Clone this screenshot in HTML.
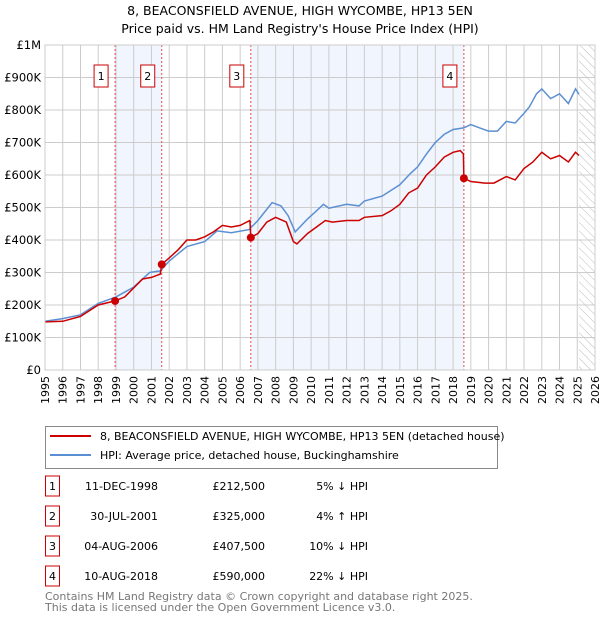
<!DOCTYPE html>
<html><head><meta charset="utf-8"><style>
body{margin:0;background:#fff;font-family:"DejaVu Sans","Liberation Sans",sans-serif;}
svg text{font-family:"DejaVu Sans","Liberation Sans",sans-serif;}
</style></head><body>
<svg width="600" height="620" xmlns="http://www.w3.org/2000/svg">
<defs><pattern id="hatch" width="6" height="6" patternUnits="userSpaceOnUse" patternTransform="rotate(-45)"><line x1="0" y1="0" x2="0" y2="6" stroke="#bbb" stroke-width="1"/></pattern></defs>
<text x="300" y="15" text-anchor="middle" font-size="12.5">8, BEACONSFIELD AVENUE, HIGH WYCOMBE, HP13 5EN</text>
<text x="300" y="33" text-anchor="middle" font-size="12.5">Price paid vs. HM Land Registry's House Price Index (HPI)</text>
<g id="plot"></g>
<g>
<rect x="45.5" y="426.5" width="452" height="42" fill="#fff" stroke="#888"/>
<line x1="50" y1="436" x2="91" y2="436" stroke="#cc0000" stroke-width="2"/>
<text x="100" y="440" font-size="11">8, BEACONSFIELD AVENUE, HIGH WYCOMBE, HP13 5EN (detached house)</text>
<line x1="50" y1="455" x2="91" y2="455" stroke="#5b8fd4" stroke-width="2"/>
<text x="100" y="459" font-size="11">HPI: Average price, detached house, Buckinghamshire</text>
</g>
<g id="table" font-size="11"></g>
<text x="45" y="600" font-size="11" fill="#777">Contains HM Land Registry data © Crown copyright and database right 2025.</text>
<text x="45" y="611" font-size="11" fill="#777">This data is licensed under the Open Government Licence v3.0.</text>
</svg>
<script>
const hpiYears=[1995,1996,1997,1998,1999,2000,2000.9,2001.5,2002,2003,2004,2004.7,2005.5,2006.5,2007,2007.8,2008.3,2008.7,2009.1,2009.8,2010.3,2010.7,2011,2012,2012.7,2013,2014,2015,2015.6,2016,2016.5,2017,2017.5,2018,2018.6,2019,2019.5,2020,2020.5,2021,2021.5,2022,2022.3,2022.7,2023,2023.5,2024,2024.5,2024.9,2025.1];
const hpiValues=[150,158,170,205,225,255,300,305,335,380,395,428,422,432,460,515,505,475,425,465,490,510,498,510,505,520,535,570,605,625,665,700,725,740,745,755,745,735,735,765,760,790,810,850,865,835,850,820,865,848];
const priceYears=[1995,1996,1997,1998,1998.95,1999.5,2000.5,2001,2001.5,2001.58,2002,2002.5,2003,2003.5,2004,2004.5,2005,2005.5,2006,2006.55,2006.6,2007,2007.5,2008,2008.6,2009,2009.2,2009.8,2010.3,2010.8,2011.2,2012,2012.7,2013,2014,2014.5,2015,2015.5,2016,2016.5,2017,2017.5,2018,2018.4,2018.58,2018.61,2019,2019.8,2020.3,2021,2021.5,2022,2022.5,2023,2023.5,2024,2024.5,2024.9,2025.1];
const priceValues=[148,150,165,200,212.5,225,280,285,295,325,345,370,400,400,410,425,445,440,445,460,407.5,420,455,470,455,395,388,420,440,460,455,460,460,470,475,490,510,545,560,600,625,655,670,675,665,590,580,575,575,595,585,620,640,670,650,660,640,670,660];
const saleYears=[1998.95,2001.58,2006.6,2018.61];
const saleValues=[212.5,325,407.5,590];
const saleLabels=["1","2","3","4"];
const saleDates=["11-DEC-1998","30-JUL-2001","04-AUG-2006","10-AUG-2018"];
const salePrices=["£212,500","£325,000","£407,500","£590,000"];
const saleDiffs=["5% ↓ HPI","4% ↑ HPI","10% ↓ HPI","22% ↓ HPI"];
const yTicks=[0,100,200,300,400,500,600,700,800,900,1000];
const yTickLabels=["£0","£100K","£200K","£300K","£400K","£500K","£600K","£700K","£800K","£900K","£1M"];
const NS="http://www.w3.org/2000/svg";
const X0=45,X1=595,Y0=370,Y1=45;
const xs=y=>X0+(y-1995)/(2026-1995)*(X1-X0);
const ys=v=>Y0-v/1000*(Y0-Y1);
const plot=document.getElementById('plot');
function mk(t,a,p){const e=document.createElementNS(NS,t);for(const k in a)e.setAttribute(k,a[k]);(p||plot).appendChild(e);return e;}
mk('rect',{x:X0,y:Y1,width:X1-X0,height:Y0-Y1,fill:'#fff'});
[[0,1],[2,3]].forEach((b,i)=>{const r=mk('rect',{x:xs(saleYears[b[0]]),y:Y1,width:xs(saleYears[b[1]])-xs(saleYears[b[0]]),height:Y0-Y1,fill:'#eef3fc',opacity:0.8});

});
const hz=mk('rect',{x:xs(2025.1),y:Y1,width:X1-xs(2025.1),height:Y0-Y1,fill:'url(#hatch)'});


for(let yr=1995;yr<=2026;yr++){const l=mk('line',{x1:xs(yr),x2:xs(yr),y1:Y1,y2:Y0,stroke:'#ccc','stroke-width':1});


const t=mk('text',{x:0,y:0,'font-size':11,'text-anchor':'end',transform:`translate(${xs(yr)+4},${Y0+6}) rotate(-90)`});t.textContent=yr;

}
yTicks.forEach((v,i)=>{const l=mk('line',{x1:X0,x2:X1,y1:ys(v),y2:ys(v),stroke:'#ccc','stroke-width':1});


const t=mk('text',{x:X0-4,y:ys(v)+4,'font-size':11.5,'text-anchor':'end'});t.textContent=yTickLabels[i];

});
saleYears.forEach((y,i)=>{const l=mk('line',{x1:xs(y),x2:xs(y),y1:Y1,y2:Y0,stroke:'#e05050','stroke-width':1,'stroke-dasharray':'2,2'});

});
const path=(xa,va)=>xa.map((y,i)=>(i?'L':'M')+xs(y).toFixed(1)+','+ys(va[i]).toFixed(1)).join('');
const h=mk('path',{d:path(hpiYears,hpiValues),fill:'none',stroke:'#5b8fd4','stroke-width':1.5});


const p=mk('path',{d:path(priceYears,priceValues),fill:'none',stroke:'#cc0000','stroke-width':1.5});


saleYears.forEach((y,i)=>{const c=mk('circle',{cx:xs(y),cy:ys(saleValues[i]),r:4,fill:'#cc0000'});


const g=mk('g',{});


mk('rect',{x:xs(y)-21,y:65,width:14,height:22,fill:'#fff',stroke:'#cc0000'},g);
const t=mk('text',{x:xs(y)-14,y:80,'font-size':11,'text-anchor':'middle'},g);t.textContent=saleLabels[i];});
mk('rect',{x:X0,y:Y1,width:X1-X0,height:Y0-Y1,fill:'none',stroke:'#ccc'});
const tb=document.getElementById('table');
const rowY=[486,516,546,576];
saleLabels.forEach((s,i)=>{const g=mk('g',{},tb);


const y=rowY[i];
mk('rect',{x:45.5,y:y-10,width:14,height:20,fill:'#fff',stroke:'#cc0000'},g);
let t=mk('text',{x:52.5,y:y+4,'text-anchor':'middle'},g);t.textContent=s;
t=mk('text',{x:158,y:y+4,'text-anchor':'end'},g);t.textContent=saleDates[i];
t=mk('text',{x:265,y:y+4,'text-anchor':'end'},g);t.textContent=salePrices[i];
t=mk('text',{x:368,y:y+4,'text-anchor':'end'},g);t.textContent=saleDiffs[i];});
</script>
</body></html>
